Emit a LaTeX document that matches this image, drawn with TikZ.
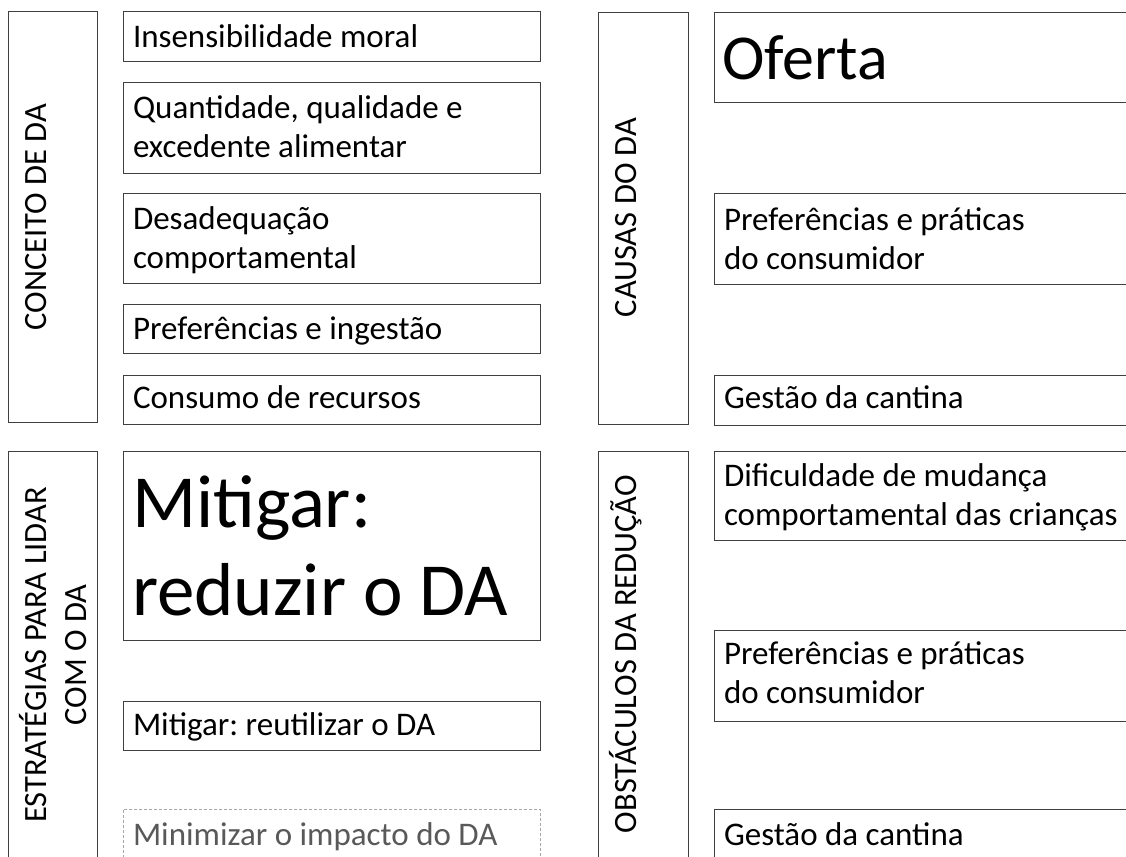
\documentclass[tikz,border=0pt]{standalone}
\usepackage{fontspec}
\setmainfont{Carlito}
\usetikzlibrary{calc}
\frenchspacing
\definecolor{boxc}{HTML}{404040}
\definecolor{dashc}{HTML}{A6A6A6}
\definecolor{greytxt}{HTML}{595959}
\tikzset{
  frame/.style={draw=boxc, line width=1pt, rectangle, inner sep=0pt, outer sep=0pt, anchor=north west},
  dframe/.style={draw=dashc, line width=0.9pt, dash pattern=on 3pt off 2pt, rectangle, inner sep=0pt, outer sep=0pt, anchor=north west},
  txt/.style={inner sep=0pt, outer sep=0pt, anchor=base west, align=left, font=\fontsize{33}{39}\selectfont},
  vlabel/.style={inner sep=0pt, outer sep=0pt, anchor=base, rotate=90, align=center, font=\fontsize{32.5}{40}\selectfont},
}
\begin{document}
\begin{tikzpicture}[x=1pt,y=-1pt]
\useasboundingbox (0,0) rectangle (1126,856);
\clip (0,0) rectangle (1126,856);
\fill[white] (0,0) rectangle (1126,856);

% category frames
\node[frame, minimum width=89pt, minimum height=410pt] (conceito) at (8,12) {};
\node[frame, minimum width=89pt, minimum height=420pt] (estrat) at (8,451) {};
\node[frame, minimum width=90pt, minimum height=411pt] (causas) at (598,13) {};
\node[frame, minimum width=90pt, minimum height=420pt] (obst) at (598,451) {};

% (for multi-line nodes the base anchor is the last line's baseline)
\node[vlabel] (tconceito) at (46,217) {CONCEITO DE DA};
\node[vlabel] (testrat) at (86,655) {ESTRATÉGIAS PARA LIDAR\\COM O DA};
\node[vlabel] (tcausas) at (636,217.5) {CAUSAS DO DA};
\node[vlabel] (tobst) at (636,654) {OBSTÁCULOS DA REDUÇÃO};

% left column items
\node[frame, minimum width=417pt, minimum height=50pt] (a1) at (123,12) {};
\node[frame, minimum width=417pt, minimum height=90pt] (a2) at (123,83) {};
\node[frame, minimum width=417pt, minimum height=90pt] (a3) at (123,193) {};
\node[frame, minimum width=417pt, minimum height=49pt] (a4) at (123,304) {};
\node[frame, minimum width=417pt, minimum height=49pt] (a5) at (123,375) {};
\node[frame, minimum width=417pt, minimum height=189pt] (c1) at (123,451) {};
\node[frame, minimum width=417pt, minimum height=49pt] (c2) at (123,701) {};
\node[dframe, minimum width=417pt, minimum height=60pt] (c3) at (123,809) {};

\node[txt] (ta1) at ($(a1.north west)+(10,36)$) {Insensibilidade moral};
\node[txt] (ta2) at ($(a2.north west)+(10,74)$) {Quantidade, qualidade e\\excedente alimentar};
\node[txt] (ta3) at ($(a3.north west)+(10,75)$) {Desadequação\\comportamental};
\node[txt] (ta4) at ($(a4.north west)+(10,35)$) {Preferências e ingestão};
\node[txt] (ta5) at ($(a5.north west)+(10,33)$) {Consumo de recursos};
\node[txt, font=\fontsize{75}{88}\selectfont] (tc1) at ($(c1.north west)+(9,164)$) {Mitigar:\\reduzir o DA};
\node[txt] (tc2) at ($(c2.north west)+(10,34)$) {Mitigar: reutilizar o DA};
\node[txt, text=greytxt] (tc3) at ($(c3.north west)+(10,36)$) {Minimizar o impacto do DA};

% right column items
\node[frame, minimum width=430pt, minimum height=90pt] (b1) at (714,13) {};
\node[frame, minimum width=430pt, minimum height=91pt] (b2) at (714,193) {};
\node[frame, minimum width=430pt, minimum height=50pt] (b3) at (714,375) {};
\node[frame, minimum width=430pt, minimum height=89pt] (d1) at (714,451) {};
\node[frame, minimum width=430pt, minimum height=91pt] (d2) at (714,630) {};
\node[frame, minimum width=430pt, minimum height=60pt] (d3) at (714,809) {};

\node[txt, font=\fontsize{64}{77}\selectfont] (tb1) at ($(b1.north west)+(8,67)$) {Oferta};
\node[txt] (tb2) at ($(b2.north west)+(10,76)$) {Preferências e práticas\\do consumidor};
\node[txt] (tb3) at ($(b3.north west)+(10,33)$) {Gestão da cantina};
\node[txt] (td1) at ($(d1.north west)+(10,74)$) {Dificuldade de mudança\\comportamental das crianças};
\node[txt] (td2) at ($(d2.north west)+(10,73)$) {Preferências e práticas\\do consumidor};
\node[txt] (td3) at ($(d3.north west)+(10,36)$) {Gestão da cantina};
\end{tikzpicture}
\end{document}
